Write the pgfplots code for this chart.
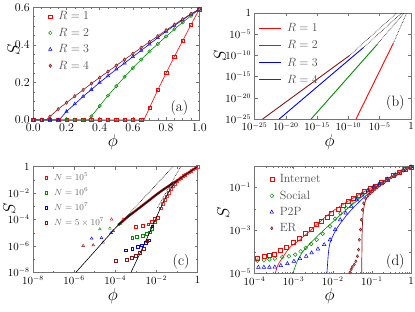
\documentclass[border=0pt]{standalone}
\usepackage{pgfplots}
\pgfplotsset{compat=1.18}
\definecolor{cR}{RGB}{255,0,0}
\definecolor{cG}{RGB}{0,140,0}
\definecolor{cB}{RGB}{0,0,255}
\definecolor{cBr}{RGB}{140,20,20}
\newcommand{\ex}[1]{$10^{\hbox{\fontsize{7.5}{8}\selectfont$-#1$}}$}
\newcommand{\lt}[1]{\textcolor{black!70}{#1}}
\pgfplotsset{
 base/.style={
  scale only axis, clip mode=individual,
  axis line style={black!55, line width=0.5pt},
  tick style={black!55, line width=0.5pt},
  tick align=inside, tick pos=both,
  major tick length=3bp, minor tick length=1.8bp,
  tick label style={font=\fontsize{12}{13}\selectfont},
  label style={font=\fontsize{16}{18}\selectfont},
  xlabel={$\phi$}, ylabel={$S$},
  legend cell align=left,
  legend style={draw=none, fill=none, font=\fontsize{12}{13}\selectfont, row sep=2.8pt, column sep=4.5bp, inner sep=1pt, anchor=north west},
 },
 logp/.style={tick label style={font=\fontsize{11}{12}\selectfont}},
}
\tikzset{tag/.style={font=\fontsize{15}{17}\selectfont}}
\begin{document}
\begin{tikzpicture}[x=1bp,y=1bp]
\useasboundingbox (0,0) rectangle (415,312);

% ---------------- (a)
\begin{axis}[base, at={(33.3bp,192bp)}, anchor=south west, width=166bp, height=112.7bp,
 xmin=0,xmax=1,ymin=0,ymax=0.6,
 xtick={0,0.2,0.4,0.6,0.8,1}, xticklabels={0.0,0.2,0.4,0.6,0.8,1.0},
 ytick={0,0.2,0.4,0.6}, yticklabels={0.0,0.2,0.4,0.6},
 minor xtick={0.05,0.1,0.15,0.25,0.3,0.35,0.45,0.5,0.55,0.65,0.7,0.75,0.85,0.9,0.95},
 minor ytick={0.05,0.1,0.15,0.25,0.3,0.35,0.45,0.5,0.55},
 xlabel style={at={(axis description cs:0.48,0)}, anchor=center, yshift=-21.7bp},
 ylabel style={at={(axis description cs:-0.12,0.62)}, anchor=center},
 legend style={at={(0.085,0.99)}},
]
\addplot[cR, line width=0.6pt, forget plot] coordinates {(0,0)(0.666,0)(0.7,0.065)(0.75,0.16)(0.8,0.25)(0.85,0.338)(0.9,0.422)(0.95,0.507)(1,0.59)};
\addplot[cG, line width=0.6pt, forget plot] coordinates {(0,0)(0.333,0)(0.35,0.02)(0.4,0.075)(0.45,0.13)(0.5,0.18)(0.55,0.23)(0.6,0.277)(0.65,0.322)(0.7,0.365)(0.75,0.405)(0.8,0.445)(0.85,0.483)(0.9,0.52)(0.95,0.555)(1,0.59)};
\addplot[cB, line width=0.6pt, forget plot] coordinates {(0,0)(0.155,0)(0.2,0.045)(0.25,0.085)(0.3,0.125)(0.35,0.162)(0.4,0.2)(0.45,0.235)(0.5,0.27)(0.55,0.303)(0.6,0.337)(0.65,0.37)(0.7,0.404)(0.75,0.438)(0.8,0.472)(0.85,0.503)(0.9,0.533)(0.95,0.563)(1,0.59)};
\addplot[cBr, line width=0.6pt, forget plot] coordinates {(0,0)(0.078,0)(0.1,0.018)(0.15,0.058)(0.2,0.092)(0.25,0.127)(0.3,0.16)(0.35,0.194)(0.4,0.226)(0.45,0.258)(0.5,0.29)(0.55,0.322)(0.6,0.353)(0.65,0.385)(0.7,0.416)(0.75,0.447)(0.8,0.478)(0.85,0.508)(0.9,0.537)(0.95,0.565)(1,0.59)};
\addplot[cR, only marks, mark=square, mark size=1.7pt, line width=0.5pt] coordinates {(0,0)(0.05,0)(0.1,0)(0.15,0)(0.2,0)(0.25,0)(0.3,0)(0.35,0)(0.4,0)(0.45,0)(0.5,0)(0.55,0)(0.6,0)(0.65,0)(0.7,0.065)(0.75,0.16)(0.8,0.25)(0.85,0.338)(0.9,0.422)(0.95,0.507)(1,0.59)};
\addlegendentry{\lt{$R=1$}}
\addplot[cG, only marks, mark=o, mark size=1.7pt, line width=0.5pt] coordinates {(0,0)(0.05,0)(0.1,0)(0.15,0)(0.2,0)(0.25,0)(0.3,0)(0.35,0.02)(0.4,0.075)(0.45,0.13)(0.5,0.18)(0.55,0.23)(0.6,0.277)(0.65,0.322)(0.7,0.365)(0.75,0.405)(0.8,0.445)(0.85,0.483)(0.9,0.52)(0.95,0.555)(1,0.59)};
\addlegendentry{\lt{$R=2$}}
\addplot[cB, only marks, mark=triangle, mark size=1.9pt, line width=0.5pt] coordinates {(0,0)(0.05,0)(0.1,0)(0.15,0)(0.2,0.045)(0.25,0.085)(0.3,0.125)(0.35,0.162)(0.4,0.2)(0.45,0.235)(0.5,0.27)(0.55,0.303)(0.6,0.337)(0.65,0.37)(0.7,0.404)(0.75,0.438)(0.8,0.472)(0.85,0.503)(0.9,0.533)(0.95,0.563)(1,0.59)};
\addlegendentry{\lt{$R=3$}}
\addplot[cBr, only marks, mark=diamond*, mark size=1.7pt, line width=0.5pt, mark options={fill=cBr!45}] coordinates {(0,0)(0.05,0)(0.1,0.018)(0.15,0.058)(0.2,0.092)(0.25,0.127)(0.3,0.16)(0.35,0.194)(0.4,0.226)(0.45,0.258)(0.5,0.29)(0.55,0.322)(0.6,0.353)(0.65,0.385)(0.7,0.416)(0.75,0.447)(0.8,0.478)(0.85,0.508)(0.9,0.537)(0.95,0.565)(1,0.59)};
\addlegendentry{\lt{$R=4$}}
\node[tag] at (rel axis cs:0.88,0.11) {(a)};
\end{axis}

% ---------------- (b)
\begin{axis}[base, logp, at={(254.5bp,193bp)}, anchor=south west, width=156.5bp, height=106bp,
 xmode=log, ymode=log, xmin=1e-25,xmax=1,ymin=1e-25,ymax=1,
 xtick={1e-25,1e-20,1e-15,1e-10,1e-5,1}, xticklabels={\ex{25},\ex{20},\ex{15},\ex{10},\ex{5},$1$},
 ytick={1e-25,1e-20,1e-15,1e-10,1e-5,1}, yticklabels={\ex{25},\ex{20},\ex{15},\ex{10},\ex{5},$1$},
 xlabel style={at={(axis description cs:0.48,0)}, anchor=center, yshift=-22.7bp},
 ylabel style={at={(axis description cs:-0.22,0.6)}, anchor=center},
 legend style={at={(0.02,0.93)}, row sep=3.5pt, column sep=3bp},
 legend image code/.code={\draw[#1] (0bp,0bp) -- (22bp,0bp);},
]
\addlegendimage{draw=cR, line width=1.2pt}\addlegendentry{\lt{$R=1$}}
\addlegendimage{draw=cG, line width=1.2pt}\addlegendentry{\lt{$R=2$}}
\addlegendimage{draw=cB, line width=1.2pt}\addlegendentry{\lt{$R=3$}}
\addlegendimage{draw=cBr, line width=1.2pt}\addlegendentry{\lt{$R=4$}}
\addplot[black, densely dotted, line width=0.6pt, forget plot] coordinates {(1.48e-3,7.08e-8)(0.204,1)};
\addplot[black, densely dotted, line width=0.6pt, forget plot] coordinates {(4.17e-6,4.17e-8)(7.59e-2,1)};
\addplot[black, densely dotted, line width=0.6pt, forget plot] coordinates {(2.40e-8,6.61e-9)(3.24e-2,1)};
\addplot[black, densely dotted, line width=0.6pt, forget plot] coordinates {(1.38e-10,8.51e-11)(5.25e-3,1)};
\addplot[cR, line width=0.9pt, forget plot] coordinates {(1.66e-9,1e-25)(1.48e-3,7.08e-8)};
\addplot[cG, line width=0.9pt, forget plot] coordinates {(1.12e-16,1e-25)(4.17e-6,4.17e-8)};
\addplot[cB, line width=0.9pt, forget plot] coordinates {(8.91e-22,1e-25)(2.40e-8,6.61e-9)};
\addplot[cBr, line width=0.9pt, forget plot] coordinates {(2.0e-24,1e-25)(1.38e-10,8.51e-11)};
\node[tag] at (rel axis cs:0.9,0.15) {(b)};
\end{axis}

% ---------------- (c)
\begin{axis}[base, logp, at={(33bp,39.5bp)}, anchor=south west, width=164.5bp, height=105.8bp,
 xmode=log, ymode=log, xmin=1e-8,xmax=1,ymin=1e-8,ymax=1,
 xtick={1e-8,1e-6,1e-4,1e-2,1}, xticklabels={\ex{8},\ex{6},\ex{4},\ex{2},$1$},
 ytick={1e-8,1e-6,1e-4,1e-2,1}, yticklabels={\ex{8},\ex{6},\ex{4},\ex{2},$1$},
 minor xtick={1e-7,1e-5,1e-3,1e-1}, minor ytick={1e-7,1e-5,1e-3,1e-1},
 xlabel style={at={(axis description cs:0.486,0)}, anchor=center, yshift=-23.5bp},
 ylabel style={at={(axis description cs:-0.145,0.6)}, anchor=center},
 legend style={at={(0.065,0.97)}, font=\fontsize{9}{10}\selectfont, row sep=1.8pt, column sep=4.5bp},
]
\addlegendimage{cR, only marks, mark=square, mark size=1.4pt}\addlegendentry{\textcolor{black!60}{$N=10^5$}}
\addlegendimage{cG, only marks, mark=square, mark size=1.4pt}\addlegendentry{\textcolor{black!60}{$N=10^6$}}
\addlegendimage{cB, only marks, mark=square, mark size=1.4pt}\addlegendentry{\textcolor{black!60}{$N=10^7$}}
\addlegendimage{cBr, only marks, mark=square, mark size=1.4pt}\addlegendentry{\textcolor{black!60}{$N=5\times10^7$}}
% thick overlap of data along the curves
\addplot[cBr, line width=2.4pt, smooth, forget plot] coordinates {(1.38e-4,3.80e-5)(3.98e-4,1.58e-4)(1.26e-3,6.31e-4)(3.98e-3,2.51e-3)(1.20e-2,9.55e-3)(3.16e-2,2.75e-2)(0.1,8.91e-2)(0.316,0.302)(1,1)};
\addplot[cR!80, only marks, mark=square, mark size=1.3pt, line width=0.4pt, forget plot] coordinates {(1.58e-2,7.08e-4)(2.0e-2,1.58e-3)(2.51e-2,3.16e-3)(3.16e-2,6.03e-3)(3.98e-2,1.12e-2)(5.01e-2,2.09e-2)(6.31e-2,3.31e-2)(7.94e-2,5.25e-2)(0.1,7.94e-2)(0.126,0.112)(0.158,0.151)(0.2,0.2)(0.251,0.251)(0.316,0.316)(0.398,0.398)(0.501,0.501)(0.631,0.631)(0.794,0.794)(1,1)};
% triangles
\addplot[cR, only marks, mark=triangle, mark size=1.6pt, line width=0.4pt, forget plot] coordinates {(6.61e-5,1.05e-4)(2.40e-4,1.05e-4)};
\addplot[cG, only marks, mark=triangle, mark size=1.6pt, line width=0.4pt, forget plot] coordinates {(1.78e-5,1.91e-5)(5.50e-5,2.14e-5)(1.78e-4,5.01e-5)};
\addplot[cB, only marks, mark=triangle, mark size=1.6pt, line width=0.4pt, forget plot] coordinates {(7.08e-6,3.80e-6)(2.14e-5,4.17e-6)(6.31e-5,1e-5)};
\addplot[cBr, only marks, mark=triangle, mark size=1.6pt, line width=0.4pt, forget plot] coordinates {(2.75e-6,1.05e-6)(8.51e-6,1.17e-6)(2.57e-5,1.86e-6)(7.94e-5,1.41e-5)};
% squares
\addplot[cR, only marks, mark=square, mark size=1.4pt, line width=0.4pt, forget plot] coordinates {(1e-3,2.82e-5)(2.24e-3,3.39e-5)(3.98e-3,4.57e-5)(6.17e-3,6.76e-5)(8.32e-3,1.15e-4)(1.12e-2,1.48e-4)};
\addplot[cG, only marks, mark=square, mark size=1.4pt, line width=0.4pt, forget plot] coordinates {(6.61e-4,4.17e-6)(1.07e-3,5.01e-6)(2.24e-3,5.89e-6)(3.31e-3,8.91e-6)(4.79e-3,1.12e-5)(6.17e-3,2.14e-5)(7.94e-3,6.31e-5)};
\addplot[cB, only marks, mark=square, mark size=1.4pt, line width=0.4pt, forget plot] coordinates {(3.16e-4,4.90e-7)(6.61e-4,6.61e-7)(1.20e-3,8.71e-7)(1.91e-3,1.17e-6)(2.95e-3,1.86e-6)(4.27e-3,2.82e-6)(6.31e-3,3.16e-5)};
\addplot[cBr, only marks, mark=square, mark size=1.4pt, line width=0.4pt, forget plot] coordinates {(1.02e-4,7.59e-8)(3.55e-4,8.91e-8)(6.17e-4,1.29e-7)(9.77e-4,1.82e-7)(1.55e-3,3.31e-7)(2.45e-3,5.89e-7)(3.55e-3,2.51e-6)};
% theory curves
\addplot[black, line width=0.6pt, smooth, forget plot] coordinates {(1.20e-6,1e-8)(1e-5,3.98e-7)(3.98e-5,4.47e-6)(1.38e-4,3.80e-5)(3.98e-4,1.58e-4)(1.26e-3,6.31e-4)(3.98e-3,2.51e-3)(1.20e-2,9.55e-3)(3.16e-2,2.75e-2)(0.1,8.91e-2)(0.316,0.302)(1,1)};
\addplot[black, line width=0.6pt, smooth, forget plot] coordinates {(5.75e-4,1e-8)(2.51e-3,1.26e-6)(1.12e-2,2.19e-4)(2.51e-2,3.16e-3)(5.37e-2,2.51e-2)(0.126,0.112)(0.316,0.316)(1,1)};
\addplot[black, densely dotted, line width=0.6pt, forget plot] coordinates {(1.26e-4,3.16e-5)(6.46e-2,1)};
\addplot[black, densely dotted, line width=0.6pt, forget plot] coordinates {(1.12e-2,7.94e-4)(0.151,1)};
\node[tag] at (rel axis cs:0.9,0.1) {(c)};
\end{axis}

% ---------------- (d)
\begin{axis}[base, logp, at={(254.5bp,38.5bp)}, anchor=south west, width=156.5bp, height=107.5bp,
 xmode=log, ymode=log, xmin=1e-4,xmax=1,ymin=1e-5,ymax=1,
 xtick={1e-4,1e-3,1e-2,1e-1,1}, xticklabels={\ex{4},\ex{3},\ex{2},\ex{1},$1$},
 ytick={1e-5,1e-3,1e-1}, yticklabels={\ex{5},\ex{3},\ex{1}},
 minor ytick={1e-4,1e-2},
 xlabel style={at={(axis description cs:0.48,0)}, anchor=center, yshift=-22.5bp},
 ylabel style={at={(axis description cs:-0.2,0.56)}, anchor=center},
 legend style={at={(0.09,0.95)}, row sep=2.6pt, column sep=4bp},
]
\addplot[cR, line width=0.6pt, smooth, forget plot] coordinates {(3.39e-4,1e-5)(3.98e-4,2.51e-5)(5.50e-4,6.31e-5)(8.13e-4,1.70e-4)(1.45e-3,3.72e-4)(3.89e-3,1.86e-3)(8.51e-3,6.46e-3)(1.86e-2,1.66e-2)(4.57e-2,4.57e-2)(0.1,0.1)(0.316,0.316)(1,0.912)};
\addplot[cG, line width=0.6pt, smooth, forget plot] coordinates {(9.55e-4,1e-5)(1.26e-3,3.98e-5)(1.78e-3,1.12e-4)(2.82e-3,2.82e-4)(5.01e-3,7.94e-4)(1e-2,2.51e-3)(2.0e-2,7.94e-3)(3.98e-2,2.24e-2)(7.94e-2,6.31e-2)(0.158,0.141)(0.398,0.380)(1,0.912)};
\addplot[cB, line width=0.6pt, smooth, forget plot] coordinates {(7.08e-3,1e-5)(7.41e-3,3.16e-5)(7.76e-3,9.12e-5)(8.51e-3,2.63e-4)(1.15e-2,9.12e-4)(1.70e-2,2.63e-3)(2.75e-2,7.76e-3)(4.57e-2,2.0e-2)(7.94e-2,5.01e-2)(0.158,0.132)(0.398,0.380)(1,0.912)};
\addplot[cBr, line width=0.7pt, smooth, forget plot] coordinates {(5.50e-2,1e-5)(5.56e-2,1e-4)(5.62e-2,6.31e-4)(5.82e-2,3.16e-3)(6.17e-2,1e-2)(6.76e-2,2.24e-2)(7.94e-2,3.98e-2)(0.1,6.31e-2)(0.141,0.105)(0.2,0.170)(0.316,0.302)(0.562,0.537)(1,0.912)};
\addplot[cR, only marks, mark=square, mark size=2pt, line width=0.5pt] coordinates {(1.17e-4,4.90e-5)(1.74e-4,6.17e-5)(2.40e-4,6.76e-5)(3.16e-4,8.13e-5)(4.47e-4,1.26e-4)(6.31e-4,1.70e-4)(9.77e-4,2.95e-4)(1.41e-3,4.47e-4)(1.95e-3,7.08e-4)(2.75e-3,1.17e-3)(3.72e-3,1.86e-3)(5.01e-3,2.82e-3)(7.08e-3,4.17e-3)(9.33e-3,6.46e-3)(1.38e-2,1e-2)(1.86e-2,1.55e-2)(2.51e-2,2.24e-2)(3.39e-2,3.16e-2)(4.57e-2,4.57e-2)(6.46e-2,6.46e-2)(8.91e-2,9.33e-2)(0.120,0.117)(0.178,0.174)(0.251,0.251)(0.355,0.355)(0.501,0.501)(0.708,0.708)(1,0.912)};
\addlegendentry{\lt{Internet}}
\addplot[cG, only marks, mark=o, mark size=1.9pt, line width=0.5pt] coordinates {(1.17e-4,3.98e-5)(1.74e-4,4.17e-5)(2.40e-4,4.47e-5)(3.31e-4,4.90e-5)(5.13e-4,5.75e-5)(7.59e-4,6.31e-5)(1.10e-3,7.59e-5)(1.51e-3,1.07e-4)(2.04e-3,1.55e-4)(2.82e-3,2.40e-4)(3.89e-3,3.72e-4)(5.50e-3,7.08e-4)(8.51e-3,1.55e-3)(1.15e-2,3.55e-3)(1.58e-2,6.31e-3)(2.19e-2,1.12e-2)(3.02e-2,2.0e-2)(4.17e-2,3.31e-2)(5.75e-2,5.25e-2)(7.94e-2,7.59e-2)(0.112,0.110)(0.158,0.158)(0.251,0.251)(0.398,0.398)(0.631,0.631)(1,0.912)};
\addlegendentry{\lt{Social}}
\addplot[cB, only marks, mark=triangle, mark size=2.1pt, line width=0.5pt] coordinates {(1.26e-4,1.95e-5)(1.74e-4,1.95e-5)(2.40e-4,1.95e-5)(3.31e-4,2.0e-5)(4.68e-4,2.34e-5)(6.92e-4,2.88e-5)(1.02e-3,3.72e-5)(1.45e-3,4.90e-5)(2.09e-3,6.31e-5)(2.88e-3,9.12e-5)(4.17e-3,1.38e-4)(6.03e-3,2.19e-4)(8.51e-3,3.72e-4)(1.15e-2,1.10e-3)(1.55e-2,3.16e-3)(2.14e-2,6.46e-3)(2.95e-2,1.32e-2)(4.07e-2,2.69e-2)(5.62e-2,4.47e-2)(7.94e-2,7.08e-2)(0.112,0.105)(0.158,0.151)(0.251,0.240)(0.398,0.389)(0.631,0.617)(1,0.912)};
\addlegendentry{\lt{P2P}}
\addplot[cBr, only marks, mark=diamond*, mark size=1.5pt, line width=0.5pt, mark options={fill=cBr!45}] coordinates {(2.75e-2,1.12e-5)(2.95e-2,1.55e-5)(3.16e-2,2.04e-5)(3.55e-2,2.63e-5)(3.89e-2,3.72e-5)(4.27e-2,6.31e-5)(4.57e-2,1.29e-4)(4.79e-2,3.72e-4)(5.13e-2,1.10e-3)(5.37e-2,3.16e-3)(5.75e-2,9.12e-3)(6.17e-2,1.86e-2)(6.92e-2,3.16e-2)(7.94e-2,4.17e-2)(9.12e-2,5.25e-2)(0.105,6.61e-2)(0.120,8.32e-2)(0.138,0.102)(0.158,0.123)(0.182,0.148)(0.209,0.178)(0.240,0.214)(0.275,0.257)(0.316,0.302)(0.363,0.347)(0.417,0.398)(0.479,0.457)(0.550,0.525)(0.631,0.603)(0.724,0.692)(0.832,0.794)(0.955,0.891)};
\addlegendentry{\lt{ER}}
\node[tag] at (rel axis cs:0.9,0.11) {(d)};
\end{axis}
\end{tikzpicture}
\end{document}
